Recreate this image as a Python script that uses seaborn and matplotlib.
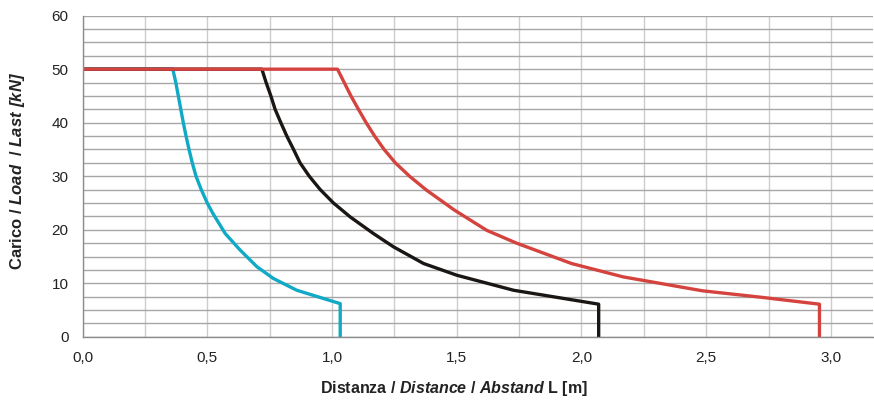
import matplotlib
matplotlib.use("Agg")
import matplotlib.pyplot as plt
from matplotlib.ticker import MultipleLocator, FuncFormatter
import seaborn as sns

# load curves: distance L [m] vs load [kN]
cyan_x = [0.0, 0.362, 0.374, 0.384, 0.394, 0.404, 0.415, 0.427, 0.440, 0.455, 0.476,
          0.500, 0.522, 0.572, 0.632, 0.699, 0.765, 0.859, 1.033, 1.033]
cyan_y = [50, 50, 47.5, 45, 42.5, 40, 37.5, 35, 32.5, 30, 27.5,
          25, 23.1, 19.3, 16.2, 13.1, 10.9, 8.7, 6.2, 0]

black_x = [0.0, 0.719, 0.736, 0.755, 0.772, 0.795, 0.819, 0.846, 0.872, 0.909, 0.953,
           1.006, 1.073, 1.166, 1.247, 1.367, 1.501, 1.728, 2.069, 2.069]
black_y = [50, 50, 47.5, 45, 42.5, 40, 37.5, 35, 32.5, 30, 27.5,
           25, 22.4, 19.3, 16.8, 13.7, 11.5, 8.7, 6.1, 0]

red_x = [0.0, 1.022, 1.049, 1.076, 1.106, 1.137, 1.171, 1.209, 1.254, 1.311,
         1.379, 1.490, 1.620, 1.740, 1.960, 2.167, 2.485, 2.719, 2.954, 2.954]
red_y = [50, 50, 47.5, 45, 42.5, 40, 37.5, 35, 32.5, 30,
         27.4, 23.7, 19.9, 17.5, 13.7, 11.2, 8.6, 7.4, 6.1, 0]

sns.set_style("white")
plt.rcParams['font.family'] = ['Liberation Sans', 'DejaVu Sans']
plt.rcParams['mathtext.fontset'] = 'custom'
plt.rcParams['mathtext.rm'] = 'Liberation Sans:bold'
plt.rcParams['mathtext.bfit'] = 'Liberation Sans:bold:italic'

fig = plt.figure(figsize=(8.74, 4.01), dpi=100)
ax = fig.add_axes([0.0944, 0.160, 0.904, 0.801])

lw = 2.4
sns.lineplot(x=cyan_x, y=cyan_y, sort=False, estimator=None, color='#10a9c6', lw=lw, ax=ax)
sns.lineplot(x=black_x, y=black_y, sort=False, estimator=None, color='#1a1614', lw=lw, ax=ax)
sns.lineplot(x=red_x, y=red_y, sort=False, estimator=None, color='#d5433e', lw=lw, ax=ax)

ax.set_xlim(0, 3.167)
ax.set_ylim(0, 60)
ax.xaxis.set_major_locator(MultipleLocator(0.5))
ax.xaxis.set_minor_locator(MultipleLocator(0.25))
ax.yaxis.set_major_locator(MultipleLocator(10))
ax.yaxis.set_minor_locator(MultipleLocator(2.5))
ax.xaxis.set_major_formatter(FuncFormatter(lambda v, p: f"{v:.1f}".replace('.', ',')))
ax.yaxis.set_major_formatter(FuncFormatter(lambda v, p: f"{v:.0f}"))

ax.grid(True, which='both', axis='x', color='#cccccc', lw=1.0)
ax.grid(True, which='both', axis='y', color='#a6a6a6', lw=1.0)
ax.set_axisbelow(True)

for s in ['top', 'right']:
    ax.spines[s].set_visible(False)
for s in ['left', 'bottom']:
    ax.spines[s].set_color('#8c8c8c')
    ax.spines[s].set_linewidth(1.0)

ax.tick_params(which='major', direction='out', length=4, width=1, color='#8c8c8c',
               labelsize=11, labelcolor='#222222', pad=6)
ax.tick_params(which='minor', length=0)

ax.set_xlabel(r"Distanza / $\mathbfit{Distance}$ / $\mathbfit{Abstand}$ L [m]",
              fontsize=11.5, fontweight='bold', color='#222222')
ax.set_ylabel(r"Carico / $\mathbfit{Load}$  / $\mathbfit{Last\ [kN]}$",
              fontsize=12, fontweight='bold', color='#222222')
# label centres (figure pixels 454,389 and 18,171)
ax.xaxis.set_label_coords(454 / 874, 1 - 389 / 401, transform=fig.transFigure)
ax.yaxis.set_label_coords(18 / 874, 1 - 171 / 401, transform=fig.transFigure)
ax.xaxis.label.set_va('center')
ax.yaxis.label.set_va('center')

fig.savefig("out.png", dpi=100)
